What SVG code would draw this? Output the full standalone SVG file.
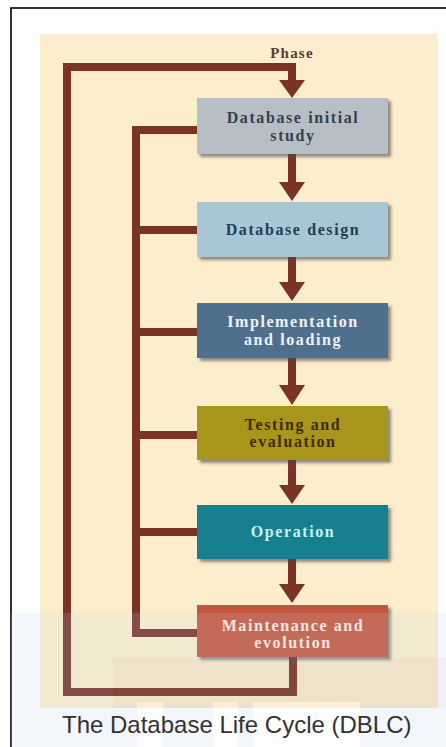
<svg xmlns="http://www.w3.org/2000/svg" width="446" height="747" viewBox="0 0 446 747">
<style>
.box{stroke:none;filter:url(#sh)}
.t{font-family:"Liberation Serif","Times New Roman",serif;font-weight:bold;font-size:16px;letter-spacing:1.6px;text-anchor:middle}
.ln{fill:none;stroke:#7b3326;stroke-width:8;stroke-linejoin:miter}
.ah{fill:#7b3326}
</style>
<defs>
<filter id="sh" x="-10%" y="-20%" width="130%" height="150%">
<feDropShadow dx="3" dy="3" stdDeviation="1.5" flood-color="#4a4a4a" flood-opacity="0.6"/>
</filter>
</defs>
<rect x="0" y="0" width="446" height="747" fill="#fefefe"/>
<rect x="11" y="8" width="445" height="750" fill="#fdfdfd" stroke="#000" stroke-width="1.6"/>
<rect x="40" y="34" width="398" height="674" fill="#fcedcc"/>
<text x="292" y="58" style="font-family:'Liberation Serif',serif;font-weight:bold;font-size:15px;letter-spacing:1.2px;text-anchor:middle" fill="#5a3d33">Phase</text>
<g id="connectors">
<path class="ln" d="M293,657 V692 H67 V67 H292 V82"/>
<polygon class="ah" points="279,80 305,80 292,98"/>
<path class="ln" d="M197,130 H136 V633 H197"/>
<path class="ln" d="M136,230 H197 M136,332 H197 M136,435 H197 M136,532 H197"/>
<path class="ln" d="M292,154 V184 M292,257 V284 M292,358 V387 M292,460 V487 M292,559 V586"/>
<polygon class="ah" points="279,182 305,182 292,201"/>
<polygon class="ah" points="279,282 305,282 292,301"/>
<polygon class="ah" points="279,385 305,385 292,405"/>
<polygon class="ah" points="279,485 305,485 292,504"/>
<polygon class="ah" points="279,584 305,584 292,603"/>
</g>
<g id="n1"><rect class="box" x="197" y="98" width="191" height="56" fill="#b7bfc6"/>
<text class="t" x="293" y="123" fill="#34404e">Database initial</text><text class="t" x="293" y="141" fill="#34404e">study</text></g>
<g id="n2"><rect class="box" x="197" y="202" width="191" height="55" fill="#a9c6d6"/>
<text class="t" x="293" y="235" fill="#243e50">Database design</text></g>
<g id="n3"><rect class="box" x="197" y="303" width="191" height="55" fill="#506f8c"/>
<text class="t" x="293" y="327" fill="#eef2f6">Implementation</text><text class="t" x="293" y="345" fill="#eef2f6">and loading</text></g>
<g id="n4"><rect class="box" x="197" y="406" width="191" height="54" fill="#a8961f"/>
<text class="t" x="293" y="430" fill="#3d2c0c">Testing and</text><text class="t" x="293" y="447" fill="#3d2c0c">evaluation</text></g>
<g id="n5"><rect class="box" x="197" y="505" width="191" height="54" fill="#14808f"/>
<text class="t" x="293" y="537" fill="#c6f2f5">Operation</text></g>
<g id="n6"><rect class="box" x="197" y="605" width="191" height="52" fill="#c5553d"/>
<text class="t" x="293" y="631" fill="#fbe9e0">Maintenance and</text><text class="t" x="293" y="648" fill="#fbe9e0">evolution</text></g>
<g id="watermark" opacity="0.16">
<rect x="11" y="613" width="435" height="134" fill="#c4d6ec"/>
<rect x="113" y="658" width="333" height="50" fill="#a8b4c4"/>
<rect x="137" y="702" width="26" height="45" fill="#ffffff"/>
<rect x="213" y="702" width="25" height="45" fill="#ffffff"/>
<rect x="253" y="702" width="107" height="45" fill="#ffffff"/>
</g>
<text x="62" y="733" style="font-family:'Liberation Sans',Arial,sans-serif;font-size:24px" fill="#333">The Database Life Cycle (DBLC)</text>
</svg>
